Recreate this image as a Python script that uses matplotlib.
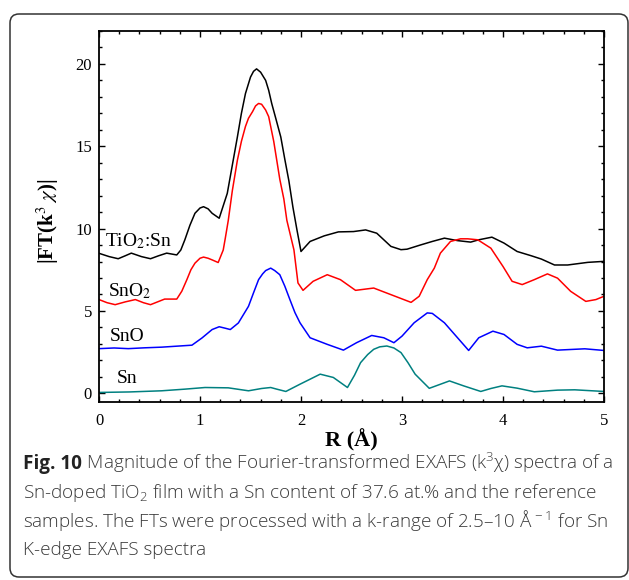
import matplotlib
matplotlib.use("Agg")
import matplotlib.pyplot as plt
from matplotlib.patches import FancyBboxPatch
from matplotlib.transforms import IdentityTransform
from matplotlib.ticker import MultipleLocator

# --- Data (R in Angstrom, |FT(k^3 chi)|) ---
r_tio2sn = [0.00, 0.10, 0.19, 0.26, 0.32, 0.42, 0.51, 0.59, 0.67, 0.77, 0.81, 0.85,
            0.90, 0.95, 1.00, 1.035, 1.08, 1.12, 1.19, 1.27, 1.37, 1.41, 1.45, 1.50,
            1.53, 1.56, 1.60, 1.65, 1.68, 1.71, 1.75, 1.80, 1.84, 1.88, 1.92, 1.96,
            2.00, 2.09, 2.23, 2.37, 2.52, 2.64, 2.75, 2.89, 2.99, 3.05, 3.18, 3.30,
            3.42, 3.55, 3.68, 3.76, 3.89, 4.01, 4.14, 4.28, 4.38, 4.51, 4.64, 4.84,
            5.00]
ft_tio2sn = [8.50, 8.30, 8.17, 8.35, 8.51, 8.30, 8.17, 8.35, 8.51, 8.40, 8.70, 9.32,
             10.2, 10.93, 11.25, 11.33, 11.2, 10.93, 10.63, 12.14, 15.56, 17.0, 18.2, 19.2,
             19.55, 19.7, 19.5, 19.0, 18.4, 17.6, 16.7, 15.56, 14.2, 12.9, 11.3, 9.92,
             8.61, 9.22, 9.56, 9.80, 9.82, 9.92, 9.72, 8.92, 8.72, 8.75, 9.00, 9.22,
             9.42, 9.27, 9.18, 9.32, 9.48, 9.12, 8.61, 8.35, 8.15, 7.79, 7.79, 7.95,
             8.01]

r_sno2 = [0.00, 0.08, 0.16, 0.26, 0.36, 0.44, 0.51, 0.58, 0.65, 0.77, 0.82, 0.87,
          0.91, 0.95, 1.00, 1.035, 1.08, 1.12, 1.18, 1.23, 1.25, 1.28, 1.32, 1.37,
          1.41, 1.45, 1.48, 1.52, 1.55, 1.58, 1.61, 1.65, 1.68, 1.70, 1.73, 1.76,
          1.79, 1.83, 1.86, 1.93, 1.97, 2.02, 2.12, 2.26, 2.39, 2.54, 2.72, 2.89,
          3.09, 3.17, 3.25, 3.32, 3.38, 3.48, 3.58, 3.65, 3.75, 3.88, 4.00, 4.09,
          4.19, 4.31, 4.44, 4.54, 4.67, 4.82, 4.92, 5.00]
ft_sno2 = [5.69, 5.50, 5.38, 5.55, 5.69, 5.50, 5.38, 5.55, 5.72, 5.72, 6.20, 6.90,
           7.50, 7.90, 8.20, 8.27, 8.20, 8.10, 7.94, 8.70, 9.40, 10.5, 12.3, 14.15,
           15.3, 16.2, 16.7, 17.1, 17.45, 17.6, 17.55, 17.2, 16.8, 16.2, 15.3, 14.15,
           13.0, 11.8, 10.5, 8.71, 6.70, 6.25, 6.80, 7.20, 6.90, 6.25, 6.39, 5.99,
           5.52, 5.89, 6.90, 7.60, 8.51, 9.22, 9.38, 9.38, 9.32, 8.81, 7.70, 6.80,
           6.60, 6.90, 7.25, 6.99, 6.19, 5.58, 5.69, 5.89]

r_sno = [0.00, 0.15, 0.29, 0.45, 0.62, 0.92, 1.02, 1.12, 1.19, 1.25, 1.30, 1.38,
         1.48, 1.53, 1.58, 1.62, 1.65, 1.70, 1.74, 1.79, 1.84, 1.89, 1.94, 1.99,
         2.09, 2.26, 2.42, 2.55, 2.70, 2.82, 2.92, 3.00, 3.12, 3.25, 3.30, 3.42,
         3.55, 3.66, 3.76, 3.90, 4.01, 4.14, 4.24, 4.38, 4.54, 4.81, 5.00]
ft_sno = [2.71, 2.75, 2.71, 2.76, 2.80, 2.92, 3.36, 3.87, 4.04, 3.95, 3.87, 4.27,
          5.28, 6.10, 6.90, 7.25, 7.45, 7.60, 7.45, 7.20, 6.50, 5.69, 4.90, 4.28,
          3.37, 2.97, 2.62, 3.07, 3.51, 3.37, 3.07, 3.47, 4.28, 4.88, 4.85, 4.28,
          3.37, 2.60, 3.37, 3.77, 3.57, 2.97, 2.76, 2.86, 2.62, 2.70, 2.60]

r_sn = [0.00, 0.30, 0.62, 0.85, 1.05, 1.28, 1.48, 1.61, 1.70, 1.76, 1.85, 1.99,
        2.19, 2.32, 2.46, 2.53, 2.59, 2.66, 2.72, 2.78, 2.85, 2.92, 2.99, 3.06,
        3.13, 3.27, 3.47, 3.61, 3.78, 3.88, 3.99, 4.14, 4.31, 4.54, 4.71, 5.00]
ft_sn = [0.05, 0.08, 0.15, 0.25, 0.35, 0.33, 0.15, 0.29, 0.35, 0.25, 0.11, 0.55,
         1.16, 0.96, 0.35, 1.10, 1.86, 2.35, 2.67, 2.82, 2.87, 2.75, 2.47, 1.85,
         1.16, 0.30, 0.75, 0.45, 0.11, 0.29, 0.45, 0.31, 0.09, 0.19, 0.21, 0.11]

series_labels = ["TiO$_2$:Sn", "SnO$_2$", "SnO", "Sn"]
label_pos = [(0.06, 8.91), (0.09, 5.89), (0.11, 3.17), (0.175, 0.65)]
colors = ["black", "#ff0000", "#0000ff", "#008080"]

caption_lines = [
    " Magnitude of the Fourier-transformed EXAFS (k$^3$χ) spectra of a",
    "Sn-doped TiO$_2$ film with a Sn content of 37.6 at.% and the reference",
    "samples. The FTs were processed with a k-range of 2.5–10 Å$^{\\,-1}$ for Sn",
    "K-edge EXAFS spectra",
]

plt.rcParams["font.family"] = ["Liberation Serif", "DejaVu Serif"]
plt.rcParams["mathtext.fontset"] = "custom"
plt.rcParams["mathtext.rm"] = "Open Sans:light"
plt.rcParams["mathtext.it"] = "Open Sans:italic"
plt.rcParams["mathtext.bf"] = "Open Sans:bold"

W, H = 629, 580
fig = plt.figure(figsize=(W / 100, H / 100), dpi=100)
ax = fig.add_axes([99 / W, 1 - 401.5 / H, 505 / W, 370.5 / H])

ax.plot(r_tio2sn, ft_tio2sn, color=colors[0], lw=1.1)
ax.plot(r_sno2, ft_sno2, color=colors[1], lw=1.1)
ax.plot(r_sno, ft_sno, color=colors[2], lw=1.1)
ax.plot(r_sn, ft_sn, color=colors[3], lw=1.1)

for lab, (x, y) in zip(series_labels, label_pos):
    ax.text(x, y, lab, fontsize=14, va="baseline", ha="left", math_fontfamily="stix")

ax.set_xlim(0, 5)
ax.set_ylim(-0.5, 22)
ax.xaxis.set_major_locator(MultipleLocator(1))
ax.xaxis.set_minor_locator(MultipleLocator(0.2))
ax.yaxis.set_major_locator(MultipleLocator(5))
ax.yaxis.set_minor_locator(MultipleLocator(1))
ax.tick_params(which="both", direction="in", top=True, right=True, width=1.0)
ax.tick_params(which="major", length=4.5, labelsize=12)
ax.tick_params(axis="x", which="major", pad=8)
ax.tick_params(axis="y", which="major", pad=5)
ax.tick_params(which="minor", length=2.5)
for sp in ax.spines.values():
    sp.set_linewidth(1.3)

ax.set_xlabel("R (Å)", fontsize=16, fontweight="bold")
ax.xaxis.set_label_coords(0.5, -0.104)
ax.xaxis.label.set_verticalalignment("center")
ax.set_ylabel("|FT(k$^3$ $\\chi$)|", fontsize=15, fontweight="bold", math_fontfamily="stix")
ax.yaxis.set_label_coords(-0.101, 0.487)
ax.yaxis.label.set_verticalalignment("center")

# rounded frame around figure + caption
frame = FancyBboxPatch((10, 3), 618, 563, boxstyle="round,pad=0,rounding_size=9",
                       transform=IdentityTransform(), fill=False,
                       edgecolor="#333333", lw=1.1)
fig.add_artist(frame)

# caption
cap_font = ["Open Sans", "DejaVu Sans"]
cap_size = 13.6
baselines = [469, 498, 527, 555]
fig.canvas.draw()
renderer = fig.canvas.get_renderer()
bold = fig.text(23 / W, 1 - baselines[0] / H, "Fig. 10", family=cap_font, fontsize=cap_size,
                fontweight="bold", color="#222222", va="baseline", ha="left")
bb = bold.get_window_extent(renderer)
fig.text(bb.x1 / W, 1 - baselines[0] / H, caption_lines[0], family=cap_font,
         fontsize=cap_size, fontweight="light", color="#3a3a3a", va="baseline", ha="left")
for line, yb in zip(caption_lines[1:], baselines[1:]):
    fig.text(23 / W, 1 - yb / H, line, family=cap_font, fontsize=cap_size,
             fontweight="light", color="#3a3a3a", va="baseline", ha="left")

fig.savefig("out.png", dpi=100)
